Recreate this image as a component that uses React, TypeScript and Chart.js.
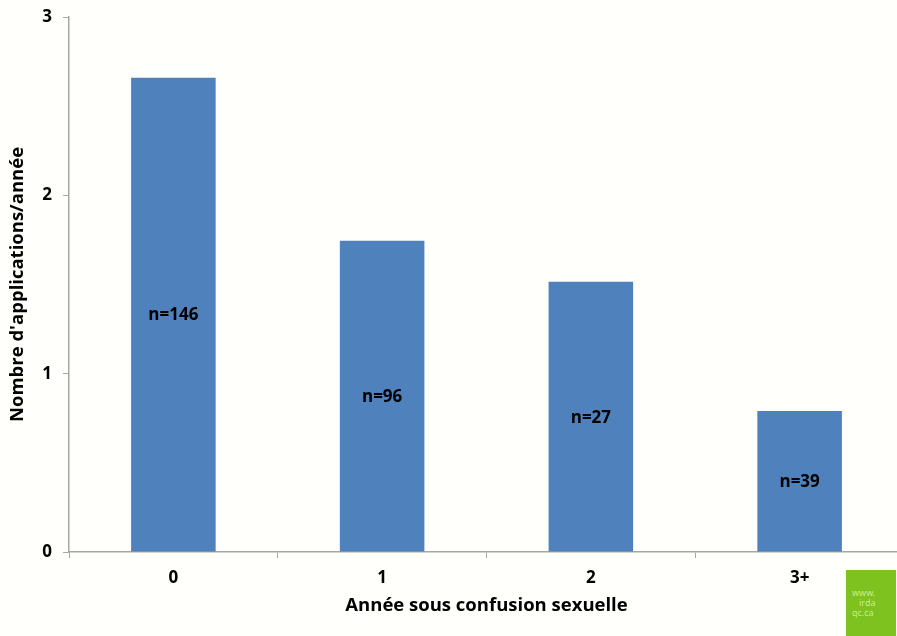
import React, { useEffect, useRef } from "react";
import { Chart, registerables } from "chart.js";

Chart.register(...registerables);

const categories = ["0", "1", "2", "3+"];
const values = [2.66, 1.745, 1.515, 0.79];
const sampleLabels = ["n=146", "n=96", "n=27", "n=39"];
const yTicks = [0, 1, 2, 3];

const FONT = "'Open Sans', Lato, sans-serif";

const barLabelPlugin = {
  id: "barLabels",
  afterDatasetsDraw(chart: any) {
    const ctx = chart.ctx;
    const meta = chart.getDatasetMeta(0);
    ctx.save();
    ctx.font = `bold 17px ${FONT}`;
    ctx.fillStyle = "#000";
    ctx.textAlign = "center";
    ctx.textBaseline = "middle";
    meta.data.forEach((bar: any, i: number) => {
      const midY = (bar.y + bar.base) / 2;
      ctx.fillText(sampleLabels[i], bar.x, midY + 1);
    });
    ctx.restore();
  },
};

const bgPlugin = {
  id: "bg",
  beforeDraw(chart: any) {
    const ctx = chart.ctx;
    ctx.save();
    ctx.fillStyle = "#fffffb";
    ctx.fillRect(0, 0, chart.width, chart.height);
    ctx.restore();
  },
};

export default function App() {
  const ref = useRef<HTMLCanvasElement>(null);
  useEffect(() => {
    document.body.style.margin = "0";
    const chart = new Chart(ref.current!, {
      type: "bar",
      data: {
        labels: categories,
        datasets: [
          {
            data: values,
            backgroundColor: "#4F81BD",
            borderWidth: 0,
            barPercentage: 0.405,
            categoryPercentage: 1,
          },
        ],
      },
      options: {
        animation: false,
        responsive: false,
        devicePixelRatio: 1,
        layout: { padding: { top: 0, right: 0, bottom: 0, left: 0 } },
        plugins: { legend: { display: false }, tooltip: { enabled: false } },
        scales: {
          x: {
            offset: true,
            afterFit: (scale: any) => {
              scale.height = 84;
            },
            grid: {
              offset: true,
              drawOnChartArea: false,
              drawTicks: true,
              tickLength: 6,
              color: "#a6a6a6",
            },
            border: { color: "#a6a6a6", width: 1.5 },
            ticks: {
              color: "#000",
              font: { family: FONT, size: 17, weight: "bold" },
              padding: 10,
            },
            title: {
              display: true,
              text: "Année sous confusion sexuelle",
              color: "#000",
              font: { family: FONT, size: 18.5, weight: "bold" },
              padding: { top: 0, bottom: 19 },
            },
          },
          y: {
            min: 0,
            max: 3,
            afterBuildTicks: (scale: any) => {
              scale.ticks = yTicks.map((v) => ({ value: v }));
            },
            afterFit: (scale: any) => {
              scale.width = 69;
              scale.paddingTop = 17;
              scale.paddingBottom = 0;
            },
            grid: {
              drawOnChartArea: false,
              drawTicks: true,
              tickLength: 6,
              color: "#a6a6a6",
            },
            border: { color: "#a6a6a6", width: 1.5 },
            ticks: {
              color: "#000",
              font: { family: FONT, size: 17, weight: "bold" },
              padding: 11,
            },
            title: {
              display: true,
              text: "Nombre d'applications/année",
              color: "#000",
              font: { family: FONT, size: 18.5, weight: "bold" },
              padding: { top: 7, bottom: 0 },
            },
          },
        },
      },
      plugins: [bgPlugin, barLabelPlugin],
    });
    return () => chart.destroy();
  }, []);

  return (
    <div
      style={{
        position: "relative",
        width: 897,
        height: 636,
        overflow: "hidden",
        background: "#fffffb",
      }}
    >
      <canvas ref={ref} width={904} height={636} style={{ display: "block" }} />
      <div
        style={{
          position: "absolute",
          left: 846,
          top: 570,
          width: 50,
          height: 66,
          background: "#7dc21e",
          color: "#c8ef8a",
          fontFamily: "'Noto Sans', sans-serif",
          fontSize: 9,
          lineHeight: "10px",
          paddingTop: 18,
          paddingLeft: 6,
          boxSizing: "border-box",
        }}
      >
        www.
        <br />
        &nbsp;&nbsp;&nbsp;irda
        <br />
        qc.ca
      </div>
    </div>
  );
}
